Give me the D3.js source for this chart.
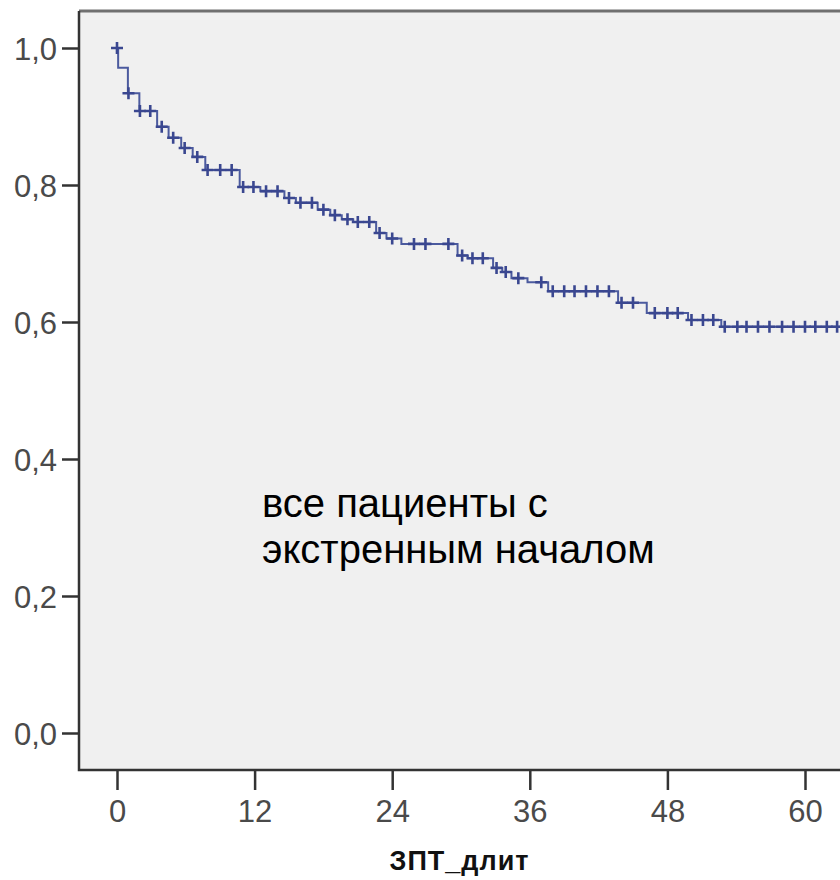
<!DOCTYPE html>
<html>
  <head>
    <meta charset="utf-8" />
    <title>Kaplan-Meier</title>
    <script src="https://d3js.org/d3.v7.min.js"></script>
    <style>
      body { margin: 0; background: #fff; }
      svg { display: block; }
    </style>
  </head>

  <body>
    <svg width="840" height="880"></svg>

    <script type="text/javascript">
      // step points of the survival curve (months, cumulative survival)
      var stepTimes = [0, 0.1, 0.95, 1.95, 3.5, 4.5, 5.6, 6.6, 7.7, 10.7, 12.5, 14.6,
        15.6, 17.5, 18.6, 19.6, 20.6, 22.6, 23.5, 24.8, 29.7, 30.6, 32.8, 33.6,
        34.4, 35.8, 37.6, 43.7, 46.2, 49.8, 52.7];
      var stepSurv = [1.0, 0.971, 0.934, 0.908, 0.885, 0.869, 0.854, 0.841, 0.822,
        0.797, 0.791, 0.781, 0.774, 0.764, 0.756, 0.75, 0.746, 0.73, 0.722, 0.714,
        0.697, 0.693, 0.679, 0.673, 0.664, 0.658, 0.645, 0.628, 0.613, 0.603, 0.593];
      var lastTime = 63.5;

      // censored observations
      var censorTimes = [0, 1.0, 2.0, 2.9, 3.9, 4.9, 5.9, 7.0, 7.9, 9.0, 10.0, 11.0,
        11.9, 13.0, 14.0, 15.0, 16.0, 17.0, 18.0, 19.0, 20.1, 21.0, 22.0, 22.9,
        24.0, 25.9, 26.9, 28.9, 30.1, 31.0, 31.9, 33.1, 33.9, 35.0, 37.0, 38.0,
        39.0, 39.9, 40.9, 41.9, 42.9, 44.0, 45.0, 46.9, 48.0, 48.9, 50.1, 51.1,
        52.0, 53.0, 54.1, 54.9, 55.9, 56.9, 58.0, 59.0, 60.0, 60.9, 61.9, 62.8];

      var xTicks = [0, 12, 24, 36, 48, 60];
      var yTicks = [0, 0.2, 0.4, 0.6, 0.8, 1.0];
      var xTitle = "ЗПТ_длит";
      var note = ["все пациенты с", "экстренным началом"];

      var svg = d3.select("svg"),
        frame = { left: 79, top: 11, right: 842, bottom: 770 };

      var xScale = d3.scaleLinear().domain([0, 60]).range([117, 805]);
      var yScale = d3.scaleLinear().domain([0, 1]).range([733, 48]);

      // plot background
      svg.append("rect")
        .attr("x", frame.left)
        .attr("y", frame.top)
        .attr("width", frame.right - frame.left)
        .attr("height", frame.bottom - frame.top)
        .attr("fill", "#f0f0f0");

      svg.append("line")
        .attr("x1", frame.left).attr("x2", frame.right)
        .attr("y1", frame.top).attr("y2", frame.top)
        .attr("stroke", "#707070")
        .attr("stroke-width", 3);
      svg.append("line")
        .attr("x1", frame.right - 1).attr("x2", frame.right - 1)
        .attr("y1", frame.top).attr("y2", frame.bottom)
        .attr("stroke", "#b0b0b0")
        .attr("stroke-width", 1);

      var tickFont = "'Liberation Sans', Arial, sans-serif";

      var yAxis = svg.append("g")
        .attr("transform", "translate(" + frame.left + ",0)")
        .call(d3.axisLeft(yScale)
          .tickValues(yTicks)
          .tickSize(17)
          .tickPadding(5)
          .tickFormat(function (d) { return d.toFixed(1).replace(".", ","); }));

      var xAxis = svg.append("g")
        .attr("transform", "translate(0," + frame.bottom + ")")
        .call(d3.axisBottom(xScale)
          .tickValues(xTicks)
          .tickSize(20)
          .tickPadding(10));

      [xAxis, yAxis].forEach(function (ax) {
        ax.select(".domain").remove();
        ax.selectAll(".tick line").attr("stroke", "#333").attr("stroke-width", 2.5);
        ax.selectAll(".tick text")
          .attr("fill", "#4a4a4a")
          .style("font-family", tickFont)
          .style("font-size", "31px");
      });
      yAxis.selectAll(".tick text").attr("dy", "0.36em");

      // axis lines
      svg.append("path")
        .attr("d", "M" + frame.left + "," + frame.top + "V" + frame.bottom + "H" + frame.right)
        .attr("fill", "none")
        .attr("stroke", "#333")
        .attr("stroke-width", 2.5);

      // survival curve
      var steps = stepTimes.map(function (t, i) { return [t, stepSurv[i]]; });
      steps.push([lastTime, stepSurv[stepSurv.length - 1]]);

      var lineGenerator = d3.line()
        .curve(d3.curveStepAfter)
        .x(function (d) { return xScale(d[0]); })
        .y(function (d) { return yScale(d[1]); });

      svg.append("path")
        .attr("fill", "none")
        .attr("stroke", "#4b5a9e")
        .attr("stroke-width", 2)
        .attr("d", lineGenerator(steps));

      function survAt(t) {
        var i = d3.bisectRight(stepTimes, t) - 1;
        return stepSurv[Math.max(0, i)];
      }

      svg.selectAll(".censor")
        .data(censorTimes)
        .enter()
        .append("path")
        .attr("class", "censor")
        .attr("d", function (t) {
          var cx = xScale(t), cy = yScale(survAt(t));
          return "M" + (cx - 6) + "," + cy + "H" + (cx + 6) +
            "M" + cx + "," + (cy - 6) + "V" + (cy + 6);
        })
        .attr("stroke", "#3a4790")
        .attr("stroke-width", 2.6)
        .attr("fill", "none");

      // annotation
      svg.append("text")
        .attr("x", 262)
        .attr("y", 517)
        .style("font-family", tickFont)
        .style("font-size", "40px")
        .attr("fill", "#000")
        .selectAll("tspan")
        .data(note)
        .enter()
        .append("tspan")
        .attr("x", 262)
        .attr("dy", function (d, i) { return i ? 46 : 0; })
        .text(function (d) { return d; });

      svg.append("text")
        .attr("x", (frame.left + 840) / 2)
        .attr("y", 870)
        .attr("text-anchor", "middle")
        .style("font-family", tickFont)
        .style("font-size", "27px")
        .style("font-weight", "bold")
        .style("letter-spacing", "1px")
        .attr("fill", "#111")
        .text(xTitle);
    </script>
  </body>
</html>
